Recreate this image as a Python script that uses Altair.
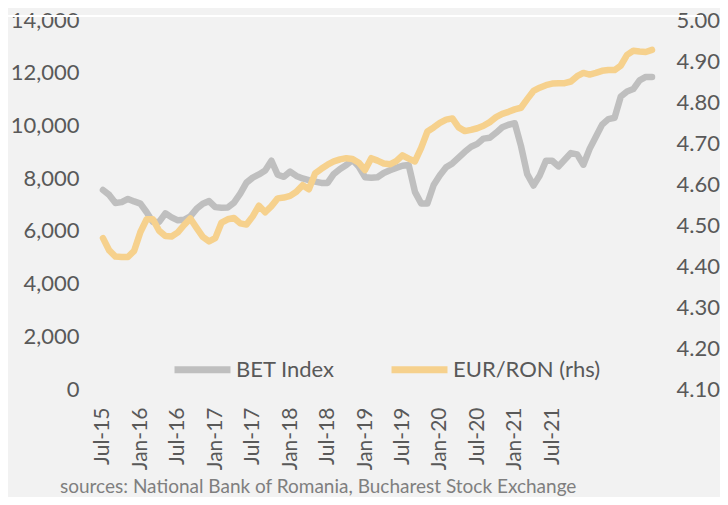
import altair as alt
import pandas as pd

LABELS = ["Jul-15", "Jan-16", "Jul-16", "Jan-17", "Jul-17", "Jan-18", "Jul-18",
          "Jan-19", "Jul-19", "Jan-20", "Jul-20", "Jan-21", "Jul-21"]

BET = [7550, 7364, 7060, 7090, 7212, 7117, 7035, 6706, 6340, 6340,
       6664, 6512, 6400, 6420, 6550, 6835, 7030, 7128, 6900, 6880,
       6885, 7070, 7410, 7830, 8020, 8140, 8290, 8660, 8130, 8050,
       8250, 8085, 7990, 7925, 7870, 7820, 7820, 8160, 8350, 8500,
       8690, 8440, 8035, 8015, 8035, 8195, 8300, 8390, 8470, 8500,
       7480, 7035, 7040, 7740, 8110, 8410, 8560, 8780, 9000, 9190,
       9300, 9500, 9530, 9720, 9930, 10025, 10085, 9220, 8150, 7720,
       8100, 8660, 8660, 8445, 8700, 8950, 8900, 8510, 9110, 9570,
       10030, 10240, 10290, 11100, 11290, 11380, 11710, 11840, 11840]

EURRON = [4.468, 4.438, 4.423, 4.422, 4.422, 4.437, 4.483, 4.514, 4.514, 4.486,
          4.473, 4.472, 4.482, 4.500, 4.516, 4.493, 4.471, 4.460, 4.468, 4.506,
          4.514, 4.517, 4.504, 4.501, 4.521, 4.547, 4.531, 4.546, 4.565, 4.567,
          4.571, 4.581, 4.597, 4.587, 4.626, 4.637, 4.647, 4.655, 4.660, 4.663,
          4.661, 4.652, 4.634, 4.663, 4.657, 4.650, 4.648, 4.656, 4.670, 4.662,
          4.655, 4.688, 4.728, 4.738, 4.749, 4.757, 4.760, 4.738, 4.729, 4.732,
          4.736, 4.742, 4.751, 4.763, 4.771, 4.776, 4.782, 4.786, 4.807, 4.827,
          4.835, 4.841, 4.845, 4.846, 4.846, 4.850, 4.863, 4.871, 4.867, 4.871,
          4.876, 4.878, 4.878, 4.889, 4.915, 4.925, 4.923, 4.922, 4.927]

SERIES = ["BET Index", "EUR/RON (rhs)"]
COLORS = ["#bfbfbf", "#f6d18d"]
LEFT_TICKS = [0, 2000, 4000, 6000, 8000, 10000, 12000, 14000]
RIGHT_TICKS = [4.10, 4.20, 4.30, 4.40, 4.50, 4.60, 4.70, 4.80, 4.90, 5.00]
SOURCE = "sources: National  Bank  of Romania,  Bucharest  Stock Exchange"

FONT = "Lato"
TEXT = "#595959"

n = len(BET)
bet_df = pd.DataFrame({"idx": list(range(n)), "value": BET, "series": SERIES[0]})
eur_df = pd.DataFrame({"idx": list(range(n)), "value": EURRON, "series": SERIES[1]})

label_expr = "[" + ",".join("'%s'" % l for l in LABELS) + "][round(datum.value/6)]"

x_enc = alt.X(
    "idx:Q",
    scale=alt.Scale(domain=[-1.28, n - 1 + 1.28], nice=False, zero=False),
    axis=alt.Axis(values=[i * 6 for i in range(len(LABELS))], labelExpr=label_expr,
                  labelAngle=-90, ticks=False, domain=False, grid=False,
                  labelPadding=18, labelFontSize=21, title=None),
)

color_enc = alt.Color(
    "series:N",
    scale=alt.Scale(domain=SERIES, range=COLORS),
    legend=alt.Legend(orient="none", legendX=76, legendY=318, direction="horizontal",
                      title=None, symbolType="stroke", symbolStrokeWidth=7,
                      symbolSize=3136, labelOffset=2, columnPadding=42,
                      labelFontSize=22, labelFont=FONT, labelColor=TEXT),
)

bet_line = alt.Chart(bet_df).mark_line(strokeWidth=6.5, strokeJoin="round", strokeCap="round").encode(
    x=x_enc,
    y=alt.Y("value:Q", scale=alt.Scale(domain=[0, 14000], nice=False),
            axis=alt.Axis(orient="left", values=LEFT_TICKS,
                          labelExpr="format(datum.value, ',')", ticks=False,
                          domain=False, grid=False, labelPadding=16, title=None)),
    color=color_enc,
)

eur_line = alt.Chart(eur_df).mark_line(strokeWidth=6.5, strokeJoin="round", strokeCap="round").encode(
    x=x_enc,
    y=alt.Y("value:Q", scale=alt.Scale(domain=[4.1, 5.0], nice=False, zero=False),
            axis=alt.Axis(orient="right", values=RIGHT_TICKS,
                          labelExpr="format(datum.value, '.2f')", ticks=False,
                          domain=False, grid=False, labelPadding=16, title=None)),
    color=color_enc,
)

top_rule = alt.Chart(alt.Data(values=[{}])).mark_rule(color="white", strokeWidth=2).encode(
    x=alt.value(-95), x2=alt.value(608), y=alt.value(-4)
)

source = alt.Chart(alt.Data(values=[{}])).mark_text(
    text=SOURCE, align="left", baseline="bottom", font=FONT, fontSize=19, color="#7f7f7f"
).encode(x=alt.value(-35), y=alt.value(477))

chart = alt.layer(bet_line, eur_line, top_rule, source).resolve_scale(
    y="independent"
).properties(
    width=565, height=369,
    padding={"left": 87, "top": 12, "right": 60, "bottom": 108},
    autosize="none",
    background="#f2f2f2",
).configure_view(stroke=None).configure_axis(
    labelFont=FONT, labelFontSize=22, labelColor=TEXT
)

chart.save("out.html", embed_options={"renderer": "svg", "actions": False})
